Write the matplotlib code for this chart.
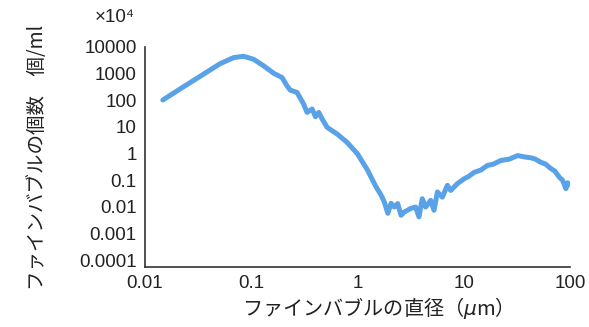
import matplotlib.pyplot as plt
from matplotlib.ticker import FixedLocator, FixedFormatter, NullLocator

plt.rcParams['font.family'] = ['Liberation Sans', 'Noto Sans CJK JP', 'DejaVu Sans']

# 直径 (µm) と個数 (×10^4 個/ml)
diameter = [0.0147, 0.0230, 0.0355, 0.0511, 0.0681, 0.0845, 0.105, 0.131,
            0.162, 0.195, 0.217, 0.233, 0.270, 0.311, 0.335, 0.374, 0.402,
            0.432, 0.464, 0.518, 0.643, 0.80, 1.0, 1.25, 1.39, 1.50, 1.67,
            1.79, 1.93, 2.07, 2.22, 2.39, 2.57, 2.76, 3.16, 3.52, 3.79, 4.07,
            4.38, 4.88, 5.25, 5.65, 6.29, 7.02, 7.54, 8.71, 10.1, 11.2, 12.5,
            14.5, 16.7, 19.0, 22.3, 27.0, 32.1, 37.0, 42.9, 47.0, 53.2, 59.0,
            66.2, 72.0, 79.3, 85.0, 91.6, 95.0, 98.6]
count = [102, 320, 950, 2380, 3980, 4490, 3470, 1950,
         1040, 711, 348, 240, 196, 72, 35, 47, 24,
         35, 20, 9.6, 5.4, 2.6, 0.97, 0.23, 0.098, 0.055, 0.027,
         0.015, 0.0057, 0.0135, 0.0098, 0.0132, 0.0048, 0.0064, 0.0086, 0.0098, 0.0042, 0.020,
         0.0098, 0.0175, 0.0074, 0.036, 0.023, 0.064, 0.041, 0.074, 0.113, 0.14, 0.195,
         0.24, 0.356, 0.40, 0.547, 0.62, 0.84, 0.75, 0.69, 0.62, 0.47, 0.40,
         0.27, 0.22, 0.13, 0.10, 0.048, 0.08, 0.070]

y_ticks = [1e-4, 1e-3, 1e-2, 1e-1, 1, 10, 100, 1000, 10000]
y_labels = ['0.0001', '0.001', '0.01', '0.1', '1', '10', '100', '1000', '10000']
x_ticks = [0.01, 0.1, 1, 10, 100]
x_labels = ['0.01', '0.1', '1', '10', '100']

fig = plt.figure(figsize=(5.89, 3.27), dpi=100)
ax = fig.add_axes([0.2462, 0.1835, 0.7215, 0.6728])
ax.plot(diameter, count, color='#5aa2e8', lw=3.6, solid_capstyle='round',
        solid_joinstyle='round')
ax.set_xscale('log')
ax.set_yscale('log')
ax.set_xlim(0.01, 100)
ax.set_ylim(10 ** -4.26, 1e4)

ax.xaxis.set_major_locator(FixedLocator(x_ticks))
ax.xaxis.set_major_formatter(FixedFormatter(x_labels))
ax.yaxis.set_major_locator(FixedLocator(y_ticks))
ax.yaxis.set_major_formatter(FixedFormatter(y_labels))
ax.xaxis.set_minor_locator(NullLocator())
ax.yaxis.set_minor_locator(NullLocator())
ax.tick_params(length=0, labelsize=13.5, colors='#222222')
ax.tick_params(axis='y', pad=6)
ax.tick_params(axis='x', pad=6)

for s in ('top', 'right'):
    ax.spines[s].set_visible(False)
for s in ('left', 'bottom'):
    ax.spines[s].set_color('#333333')
    ax.spines[s].set_linewidth(1.2)

jp = ['Noto Sans CJK JP', 'DejaVu Sans']
fig.text(0.632, 0.058, 'ファインバブルの直径（$\\mu$m）', ha='center', va='center',
         fontsize=14.5, family=jp, color='#222222')
fig.text(0.063, 0.52, 'ファインバブルの個数　個/ml', ha='center', va='center',
         rotation=90, fontsize=14, family=jp, color='#222222')
fig.text(0.194, 0.945, '×10⁴', ha='center', va='center', fontsize=13.5,
         color='#222222')

fig.savefig('out.png', dpi=100)
